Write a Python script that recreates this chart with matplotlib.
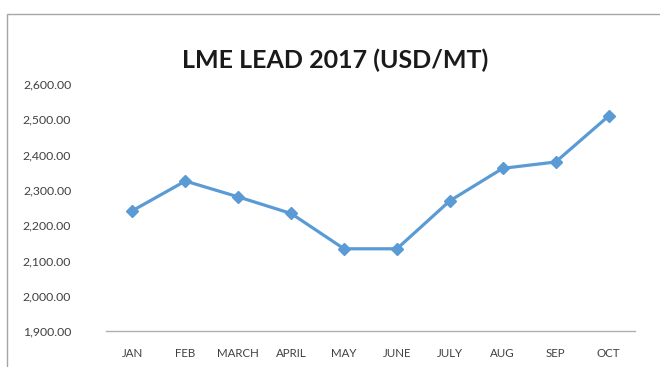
import matplotlib
matplotlib.use("Agg")
import matplotlib.pyplot as plt
from matplotlib.patches import Rectangle
from matplotlib.ticker import FuncFormatter

months = ["JAN", "FEB", "MARCH", "APRIL", "MAY", "JUNE", "JULY", "AUG", "SEP", "OCT"]
prices = [2241, 2325, 2280, 2233, 2133, 2133, 2269, 2361, 2379, 2509]
yticks = [1900, 2000, 2100, 2200, 2300, 2400, 2500, 2600]

plt.rcParams['font.family'] = ['Lato', 'DejaVu Sans']

W, H = 660, 367
fig = plt.figure(figsize=(W / 100, H / 100), dpi=100)
fig.patch.set_facecolor("white")

# chart border
fig.patches.append(Rectangle((7 / W, -0.2), 2.0, 1.2 - 14 / H, transform=fig.transFigure,
                             fill=False, edgecolor="#A6A6A6", linewidth=1.0))

ax = fig.add_axes([106 / W, 36 / H, (635 - 106) / W, (331 - 84) / H])
x = list(range(len(months)))
ax.plot(x, prices, color="#5B9BD5", linewidth=2.3, marker="D", markersize=6.5,
        markerfacecolor="#5B9BD5", markeredgecolor="#5B9BD5")
ax.set_xlim(-0.5, len(months) - 0.5)
ax.set_ylim(1900, 2600)
ax.set_yticks(yticks)
ax.yaxis.set_major_formatter(FuncFormatter(lambda v, p: f"{v:,.2f}"))
ax.set_xticks(x)
ax.set_xticklabels(months)
for s in ["top", "right", "left"]:
    ax.spines[s].set_visible(False)
ax.spines["bottom"].set_color("#B0B0B0")
ax.spines["bottom"].set_linewidth(1.0)
ax.tick_params(axis="y", length=0, pad=25, labelsize=8.8, labelcolor="#404040")
ax.tick_params(axis="x", length=0, pad=12, labelsize=8.3, labelcolor="#404040")

fig.text(335 / W, 1 - 60 / H, "LME LEAD 2017 (USD/MT)", ha="center", va="center",
         fontsize=18, fontweight="bold", color="#1a1a1a")

fig.savefig("out.png", dpi=100)
